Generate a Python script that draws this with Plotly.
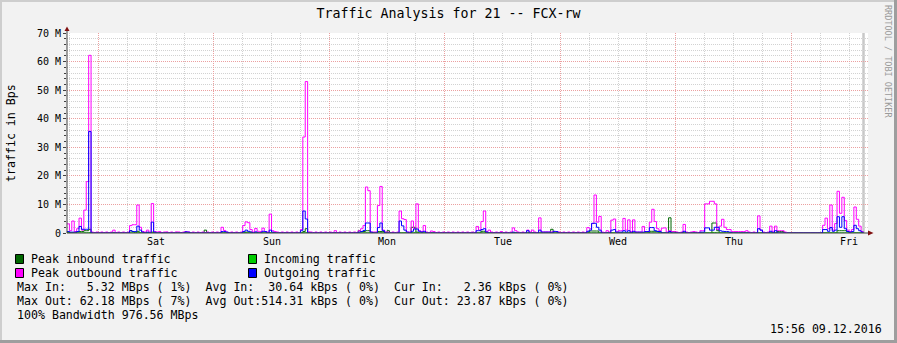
import pandas as pd
import plotly.graph_objects as go

# ---------------- data (MBps, 30-minute samples) ----------------
START = "2016-12-02 17:30"
NOW = "2016-12-09 15:56"
STEP = "30min"
FIRST_MIDNIGHT = "2016-12-03"
day_labels = ["Sat", "Sun", "Mon", "Tue", "Wed", "Thu", "Fri"]

peak_out = [
    3.2, 0.8, 4.2, 0.5, 1.5, 5.2, 1.0, 8.0, 18.0, 62.18,
    0.35, 0, 0.35, 0, 0.35, 0, 0.35, 0, 0.35, 1.0,
    0, 0.35, 0, 0.35, 0, 0.35, 2.6, 2.9, 2.9, 9.8,
    2.0, 0.5, 0.35, 1.0, 0.35, 10.3, 0.5, 0.35, 0.5, 0,
    0.35, 0.4, 0, 0.35, 0, 0.4, 0.35, 0, 0.35, 0.5,
    0.4, 0, 0.35, 0, 0.35, 0, 0.35, 0, 0.35, 0,
    0.35, 0, 0.35, 0, 2.0, 0.9, 0.35, 0, 0.35, 0,
    0.35, 0, 0.35, 2.6, 3.9, 3.6, 1.2, 0.35, 1.6, 0.6,
    0.5, 1.7, 0.5, 0.35, 6.6, 0.8, 0.5, 0.35, 0, 0.35,
    0, 0.35, 0, 0.35, 0, 0.35, 0, 1.2, 33.6, 53.0,
    0.4, 0.35, 0, 0.35, 0, 0.35, 0, 0.35, 0, 0.35,
    0, 0.8, 0, 0.35, 0, 0.35, 0, 0.35, 0, 0.35,
    0, 0.8, 1.5, 2.6, 16.1, 14.8, 0.35, 0.35, 0.35, 9.6,
    16.3, 1.0, 0.35, 0.35, 0, 0.35, 0, 0.35, 7.7, 5.0,
    4.7, 0.35, 0.35, 4.2, 1.6, 10.2, 0.8, 0.5, 2.6, 0.35,
    0, 0.7, 0.5, 0, 0.35, 0, 0.35, 0, 0.35, 0,
    0.35, 0, 0.35, 0, 0.35, 0, 0.35, 0, 0.35, 0,
    2.3, 1.0, 4.0, 7.7, 0.5, 1.0, 0.35, 0, 0.35, 0,
    0.5, 0, 0.35, 0, 0.35, 1.8, 0.8, 0.35, 0, 0.35,
    0, 1.0, 0.35, 1.0, 0.35, 0, 5.3, 0.4, 0.4, 0.4,
    0.4, 0.35, 0.5, 0.5, 0.35, 0, 0.35, 0, 0.35, 0,
    0.35, 0, 0.35, 0, 0.35, 0, 1.9, 1.5, 3.3, 13.3,
    3.8, 5.8, 0.35, 0, 0.8, 0.35, 4.5, 4.9, 0.35, 0.8,
    0.8, 5.1, 1.0, 4.6, 0.5, 4.6, 0.35, 0.35, 0.35, 2.3,
    0.5, 0.5, 3.8, 8.3, 4.0, 1.5, 0.8, 1.7, 1.8, 0.35,
    0.8, 0.5, 0.5, 0.35, 0, 0.35, 3.0, 0.35, 0, 0.35,
    0.5, 0.35, 0, 0.8, 0.8, 10.2, 10.2, 11.1, 11.1, 10.2,
    1.2, 2.4, 4.8, 2.0, 1.2, 1.2, 0.5, 0.5, 0.5, 0.5,
    0.5, 0.5, 0.8, 0.35, 0, 0.35, 0, 6.0, 1.0, 0.35,
    0, 0.35, 2.4, 0.6, 2.4, 0.8, 0.8, 0.8, 0.35, 0,
    0, 0, 0, 0, 0, 0, 0, 0, 0, 0,
    0, 0, 0, 0, 2.7, 5.2, 1.5, 9.8, 1.0, 3.3,
    14.6, 6.9, 12.5, 4.4, 1.0, 0.5, 1.2, 9.1, 4.8, 2.4, 0.5,
]

outgoing = [
    0.5, 0.3, 0.3, 0.3, 0.5, 2.3, 1.3, 1.3, 1.3, 35.5,
    0, 0, 0, 0, 0, 0, 0, 0, 0, 0,
    0, 0, 0, 0, 0, 0, 0.8, 0.5, 0.5, 2.4,
    1.0, 0.3, 0, 0.3, 0, 3.8, 0.3, 0, 0, 0,
    0, 0, 0, 0, 0, 0, 0, 0, 0, 0.4,
    0.3, 0, 0, 0, 0, 0, 0, 0, 0, 0,
    0, 0, 0, 0, 0.5, 0.5, 0.3, 0, 0, 0,
    0, 0, 0, 0.5, 1.0, 0.6, 0.3, 0, 0.4, 0,
    0, 0.6, 0.5, 0, 1.0, 0.3, 0, 0, 0, 0,
    0, 0, 0, 0, 0, 0, 0, 0.8, 7.7, 4.9,
    0, 0, 0, 0, 0, 0, 0, 0, 0, 0,
    0, 0, 0, 0, 0, 0, 0, 0, 0, 0,
    0, 0.3, 0.5, 0.9, 3.5, 3.5, 0.3, 0, 0, 1.9,
    3.5, 0.8, 0, 0, 0, 0, 0, 0, 4.2, 2.5,
    1.0, 0.3, 0, 0.6, 1.4, 1.4, 0.6, 0.3, 0.6, 0,
    0, 0, 0, 0, 0, 0, 0, 0, 0, 0,
    0, 0, 0, 0, 0, 0, 0, 0, 0, 0,
    0.8, 0.8, 1.2, 1.5, 0.3, 0, 0, 0, 0, 0,
    0, 0, 0, 0, 0, 0.3, 0, 0, 0, 0,
    0, 0.8, 0, 0, 0, 0, 1.0, 0.3, 0.3, 0.3,
    0.3, 0, 0.6, 0.5, 0, 0, 0, 0, 0, 0,
    0, 0, 0, 0, 0, 0, 0.6, 1.0, 3.4, 3.4,
    2.0, 1.0, 0, 0, 0, 0, 1.0, 1.2, 0.3, 0.3,
    0.3, 0.8, 0.3, 0.8, 0, 0.6, 0.3, 0.3, 0.3, 0.3,
    0.5, 0.5, 1.9, 1.9, 0.8, 0.5, 0.5, 0, 0, 0,
    0.5, 0, 0, 0, 0, 0, 0.6, 0, 0, 0,
    0, 0, 0, 0.3, 0.3, 1.8, 1.8, 1.0, 1.0, 2.0,
    2.0, 0.8, 0.6, 0.5, 0.5, 0.3, 0, 0, 0, 0,
    0, 0, 0, 0, 0, 0, 0, 1.5, 1.0, 0,
    0, 0, 0.6, 0, 0.8, 0, 0, 0, 0, 0,
    0, 0, 0, 0, 0, 0, 0, 0, 0, 0,
    0, 0, 0, 0, 1.2, 1.2, 0.6, 1.9, 0.6, 1.0,
    5.7, 2.0, 5.7, 1.5, 0.5, 0.3, 0.5, 2.7, 1.5, 0.8, 0.3,
]

peak_in = [
    0.3, 0, 0, 0, 0.5, 0.5, 0.5, 0.8, 0.8, 1.3,
    0, 0, 0, 0, 0, 0, 0, 0, 0, 0,
    0, 0, 0, 0, 0, 0, 0.8, 0.5, 0, 0.6,
    0, 0, 0, 0, 0, 0.3, 0, 0, 0, 0,
    0, 0, 0, 0, 0, 0, 0, 0, 0, 0,
    0, 0, 0, 0, 0, 0, 0, 1.0, 0, 0,
    0, 0, 0, 0, 0, 0, 0, 0, 0, 0,
    0, 0, 0, 0, 0.3, 0.3, 0.3, 0, 0, 0,
    0, 0, 0, 0, 0, 0, 0, 0, 0, 0,
    0, 0, 0, 0, 0, 0, 0, 0, 0.5, 1.5,
    0, 0, 0, 0, 0, 0, 0, 0, 0, 0,
    0, 0, 0, 0, 0, 0, 0, 0, 0, 0,
    0, 0.8, 0.5, 0.5, 0.8, 0.8, 0, 0, 0, 0.5,
    0.5, 0.5, 0, 0.8, 0, 0, 0, 0, 0, 0,
    0, 0, 0, 2.0, 2.0, 0.3, 0, 0, 0, 0,
    0, 0, 0, 0, 0, 0, 0, 0, 0, 0,
    0, 0, 0, 0, 0, 0, 0, 0, 0, 0,
    0, 0, 0.6, 0.6, 0, 0, 0, 0, 0, 0,
    0, 0, 0, 0, 0, 0, 0, 0, 0, 0,
    0, 0, 0, 0, 0, 0, 0, 0, 0, 0,
    0, 1.3, 0, 0, 0, 0, 0, 0, 0, 0,
    0, 0, 0, 0, 0, 0, 0, 0.7, 0.7, 0.7,
    0.7, 0, 0, 0, 0, 0, 0, 0, 0, 0,
    0, 0, 0, 0, 0, 0, 0, 0, 0, 0,
    0, 0, 0.6, 0.6, 0.6, 0.6, 0, 0, 0, 0,
    5.32, 0.5, 0.5, 0, 0, 0, 0, 0, 0, 0,
    0, 0, 0, 0, 0, 0, 0, 0, 3.5, 3.5,
    0.8, 0, 0, 0, 0, 0, 0, 0, 0, 0,
    0, 0, 0, 0, 0, 0, 0, 0, 0, 0,
    0, 0, 0, 0, 0, 0.5, 0.5, 0.5, 0, 0,
    0, 0, 0, 0, 0, 0, 0, 0, 0, 0,
    0, 0, 0, 0, 0, 0, 0, 0, 0, 0,
    0.8, 0.8, 0.8, 0.8, 0.5, 0, 0, 0, 0, 0, 0,
]

incoming = [
    0.05, 0.03, 0.03, 0.02, 0.06, 0.06, 0.05, 0.08, 0.08, 0.12,
    0.02, 0.02, 0.02, 0.02, 0.02, 0.02, 0.02, 0.02, 0.02, 0.02,
    0.02, 0.02, 0.02, 0.02, 0.02, 0.02, 0.06, 0.05, 0.03, 0.06,
    0.03, 0.02, 0.02, 0.02, 0.02, 0.04, 0.02, 0.02, 0.02, 0.02,
    0.02, 0.02, 0.02, 0.02, 0.02, 0.02, 0.02, 0.02, 0.02, 0.02,
    0.02, 0.02, 0.02, 0.02, 0.02, 0.02, 0.02, 0.08, 0.02, 0.02,
    0.02, 0.02, 0.02, 0.02, 0.03, 0.03, 0.02, 0.02, 0.02, 0.02,
    0.02, 0.02, 0.02, 0.03, 0.04, 0.04, 0.03, 0.02, 0.02, 0.02,
    0.02, 0.02, 0.02, 0.02, 0.03, 0.02, 0.02, 0.02, 0.02, 0.02,
    0.02, 0.02, 0.02, 0.02, 0.02, 0.02, 0.02, 0.03, 0.06, 0.10,
    0.02, 0.02, 0.02, 0.02, 0.02, 0.02, 0.02, 0.02, 0.02, 0.02,
    0.02, 0.02, 0.02, 0.02, 0.02, 0.02, 0.02, 0.02, 0.02, 0.02,
    0.02, 0.06, 0.05, 0.05, 0.07, 0.07, 0.02, 0.02, 0.02, 0.05,
    0.05, 0.04, 0.02, 0.06, 0.02, 0.02, 0.02, 0.02, 0.03, 0.03,
    0.03, 0.02, 0.02, 0.12, 0.12, 0.04, 0.02, 0.02, 0.02, 0.02,
    0.02, 0.02, 0.02, 0.02, 0.02, 0.02, 0.02, 0.02, 0.02, 0.02,
    0.02, 0.02, 0.02, 0.02, 0.02, 0.02, 0.02, 0.02, 0.02, 0.02,
    0.03, 0.03, 0.05, 0.05, 0.02, 0.02, 0.02, 0.02, 0.02, 0.02,
    0.02, 0.02, 0.02, 0.02, 0.02, 0.02, 0.02, 0.02, 0.02, 0.02,
    0.02, 0.02, 0.02, 0.02, 0.02, 0.02, 0.03, 0.02, 0.02, 0.02,
    0.02, 0.09, 0.02, 0.02, 0.02, 0.02, 0.02, 0.02, 0.02, 0.02,
    0.02, 0.02, 0.02, 0.02, 0.02, 0.02, 0.02, 0.05, 0.05, 0.05,
    0.05, 0.02, 0.02, 0.02, 0.02, 0.02, 0.03, 0.03, 0.02, 0.02,
    0.02, 0.02, 0.02, 0.02, 0.02, 0.02, 0.02, 0.02, 0.02, 0.02,
    0.02, 0.02, 0.05, 0.05, 0.05, 0.05, 0.02, 0.02, 0.02, 0.02,
    0.30, 0.04, 0.04, 0.02, 0.02, 0.02, 0.02, 0.02, 0.02, 0.02,
    0.02, 0.02, 0.02, 0.02, 0.02, 0.03, 0.03, 0.03, 0.20, 0.20,
    0.06, 0.02, 0.02, 0.02, 0.02, 0.02, 0.02, 0.02, 0.02, 0.02,
    0.02, 0.02, 0.02, 0.02, 0.02, 0.02, 0.02, 0.03, 0.02, 0.02,
    0.02, 0.02, 0.02, 0.02, 0.02, 0.04, 0.04, 0.04, 0.02, 0.02,
    0.01, 0.01, 0.01, 0.01, 0.01, 0.01, 0.01, 0.01, 0.01, 0.01,
    0.01, 0.01, 0.01, 0.01, 0.03, 0.03, 0.02, 0.03, 0.02, 0.02,
    0.06, 0.06, 0.06, 0.06, 0.04, 0.02, 0.02, 0.02, 0.02, 0.02, 0.02,
]

ytick_vals = [0, 10, 20, 30, 40, 50, 60, 70]
ytick_text = ["0", "10 M", "20 M", "30 M", "40 M", "50 M", "60 M", "70 M"]
yminor_vals = [v for v in range(0, 71, 2) if v % 10 != 0]

title_text = "Traffic Analysis for 21 -- FCX-rw"
y_title = "traffic in Bps"
legend_items = [
    ("Peak inbound traffic", "#006600"),
    ("Incoming traffic", "#00cc00"),
    ("Peak outbound traffic", "#ff00ff"),
    ("Outgoing traffic", "#0000ff"),
]
stats_lines = [
    "Max In:   5.32 MBps ( 1%)  Avg In:  30.64 kBps ( 0%)  Cur In:   2.36 kBps ( 0%)",
    "Max Out: 62.18 MBps ( 7%)  Avg Out:514.31 kBps ( 0%)  Cur Out: 23.87 kBps ( 0%)",
    "100% Bandwidth 976.56 MBps",
]
stamp_text = "15:56 09.12.2016"
credit_text = "RRDTOOL / TOBI OETIKER"

# ---------------- layout constants ----------------
W, H = 897, 343
PL, PR, PT, PB = 67, 868, 33, 233
MONO = "DejaVu Sans Mono"
GRID = "#d2d2d2"
MGRID = "#eba0a0"
ARROW = "#801010"
AXIS = "#404040"


def px(x):
    return (x - PL) / (PR - PL)


def py(y):
    return (PB - y) / (PB - PT)


def nb(s):
    return s.replace(" ", "\u00a0")


n = len(peak_out)
t = pd.date_range(START, periods=n + 1, freq=STEP)
midnights = pd.date_range(FIRST_MIDNIGHT, periods=len(day_labels), freq="D")
noons = midnights + pd.Timedelta(hours=12)
all_midnights = pd.date_range(pd.Timestamp(FIRST_MIDNIGHT) - pd.Timedelta(days=1),
                              periods=len(day_labels) + 2, freq="D")
xminor_vals = [m + pd.Timedelta(hours=h) for m in all_midnights for h in (6, 12, 18)]


def ext(v):
    return list(v) + [v[-1]]


fig = go.Figure()
series = [
    (peak_in, "#006600"),
    (incoming, "#00cc00"),
    (peak_out, "#ff00ff"),
    (outgoing, "#0000ff"),
]
for vals, col in series:
    fig.add_trace(go.Scatter(
        x=t, y=ext(vals), mode="lines", line=dict(color=col, width=1, shape="hv"),
        hoverinfo="skip", showlegend=False,
    ))

shapes = []
# end-of-data marker
shapes.append(dict(type="line", xref="x", yref="paper", x0=t[-1], x1=t[-1],
                   y0=0, y1=1, line=dict(color="#c8c8c8", width=2.5), layer="below"))
# axis lines and arrows
shapes.append(dict(type="line", xref="paper", yref="paper", x0=px(67), x1=px(67),
                   y0=py(233), y1=py(30), line=dict(color=AXIS, width=1)))
shapes.append(dict(type="line", xref="paper", yref="paper", x0=px(67), x1=px(869),
                   y0=py(233), y1=py(233), line=dict(color=AXIS, width=1)))
shapes.append(dict(type="path", xref="paper", yref="paper",
                   path=f"M {px(64.5)},{py(31)} L {px(69.5)},{py(31)} L {px(67)},{py(26.5)} Z",
                   fillcolor=ARROW, line=dict(width=0)))
shapes.append(dict(type="path", xref="paper", yref="paper",
                   path=f"M {px(868)},{py(230.5)} L {px(868)},{py(235.5)} L {px(873.5)},{py(233)} Z",
                   fillcolor=ARROW, line=dict(width=0)))
# 3D frame
shapes.append(dict(type="line", xref="paper", yref="paper", x0=px(0), x1=px(W),
                   y0=py(1), y1=py(1), line=dict(color="#cecece", width=2)))
shapes.append(dict(type="line", xref="paper", yref="paper", x0=px(1), x1=px(1),
                   y0=py(0), y1=py(H), line=dict(color="#cecece", width=2)))
shapes.append(dict(type="line", xref="paper", yref="paper", x0=px(0), x1=px(W),
                   y0=py(H - 1.5), y1=py(H - 1.5), line=dict(color="#9e9e9e", width=3)))
shapes.append(dict(type="line", xref="paper", yref="paper", x0=px(W - 1.5), x1=px(W - 1.5),
                   y0=py(0), y1=py(H), line=dict(color="#9e9e9e", width=3)))

annotations = []
# day labels (text positioned on the time axis)
for lab, noon in zip(day_labels, noons):
    annotations.append(dict(text=lab, xref="x", yref="paper", x=noon, y=py(241.5),
                            xanchor="center", yanchor="middle", showarrow=False,
                            font=dict(family=MONO, size=10, color="#000")))
# legend boxes + labels
leg_pos = [(15.5, 259), (248.5, 259), (15.5, 273), (248.5, 273)]
for (label, col), (bx, by) in zip(legend_items, leg_pos):
    shapes.append(dict(type="rect", xref="paper", yref="paper",
                       x0=px(bx), x1=px(bx + 8), y0=py(by - 4.5), y1=py(by + 4.5),
                       fillcolor=col, line=dict(color="#000000", width=1)))
    annotations.append(dict(text=nb(label), xref="paper", yref="paper",
                            x=px(bx + 13.5), y=py(by), xanchor="left", yanchor="middle",
                            showarrow=False, font=dict(family=MONO, size=11.6, color="#000")))
for i, line in enumerate(stats_lines):
    annotations.append(dict(text=nb(line), xref="paper", yref="paper",
                            x=px(14.5), y=py(287 + 14 * i), xanchor="left", yanchor="middle",
                            showarrow=False, font=dict(family=MONO, size=11.6, color="#000")))
annotations.append(dict(text=nb(stamp_text), xref="paper", yref="paper",
                        x=px(883.5), y=py(329), xanchor="right", yanchor="middle",
                        showarrow=False, font=dict(family=MONO, size=11.6, color="#000")))
annotations.append(dict(text=nb(y_title), xref="paper", yref="paper",
                        x=px(11), y=py(133), xanchor="center", yanchor="middle", textangle=-90,
                        showarrow=False, font=dict(family=MONO, size=11.6, color="#000")))
annotations.append(dict(text=nb(credit_text), xref="paper", yref="paper",
                        x=px(888), y=py(61), xanchor="center", yanchor="middle", textangle=90,
                        showarrow=False, font=dict(family=MONO, size=8.5, color="#9a9a9a")))

fig.update_layout(
    width=W, height=H, autosize=False,
    margin=dict(l=PL, r=W - PR, t=PT, b=H - PB, pad=0),
    paper_bgcolor="#f2f2f2", plot_bgcolor="#ffffff",
    title=dict(text=title_text, x=0.5, xref="container", xanchor="center",
               y=1 - 13.5 / H, yref="container", yanchor="middle",
               font=dict(family=MONO, size=13.3, color="#000")),
    xaxis=dict(
        type="date", range=[START, NOW], tickmode="array", tickvals=midnights,
        ticktext=[""] * len(midnights), showgrid=True, gridcolor=MGRID, griddash="1px,1px",
        gridwidth=1, ticks="", showline=False, zeroline=False,
        minor=dict(tickmode="array", tickvals=xminor_vals,
                   showgrid=True, gridcolor=GRID, griddash="1px,1px", gridwidth=1, ticks=""),
    ),
    yaxis=dict(
        range=[0, 70], tickmode="array", tickvals=ytick_vals, ticktext=ytick_text,
        showgrid=True, gridcolor=MGRID, griddash="1px,1px", gridwidth=1,
        ticks="outside", ticklen=3, tickcolor=AXIS, showline=False, zeroline=False,
        tickfont=dict(family=MONO, size=10, color="#000"),
        minor=dict(tickmode="array", tickvals=yminor_vals, showgrid=True, gridcolor=GRID,
                   griddash="1px,1px", gridwidth=1, ticks="outside", ticklen=2, tickcolor=AXIS),
    ),
    shapes=shapes,
    annotations=annotations,
)

fig.write_html("out.html")
